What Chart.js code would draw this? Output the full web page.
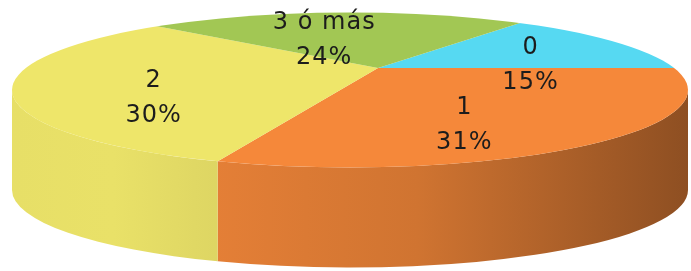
<!DOCTYPE html>
<html>
<head>
<meta charset="utf-8">
<script src="https://cdn.jsdelivr.net/npm/chart.js@4.4.0/dist/chart.umd.min.js"></script>
<style>
  html, body { margin: 0; padding: 0; background: #fff; }
</style>
</head>
<body>
<canvas id="pie" width="691" height="271"></canvas>
<script>
const categories = ['0', '1', '2', '3 ó más'];
const percents = [15, 31, 30, 24];
const topColors = ['#56D9F2', '#F5883A', '#EEE66A', '#A2C754'];

// outline of the tilted disc and the point where the slices meet
const view = { cx: 350, cy: 90, rx: 338, ry: 77.5, depth: 100, apexX: 378, apexY: 68 };
const squash = view.ry / view.rx;

function shade(hex, f) {
    const n = parseInt(hex.slice(1), 16);
    const r = Math.min(255, Math.round(((n >> 16) & 255) * f));
    const g = Math.min(255, Math.round(((n >> 8) & 255) * f));
    const b = Math.min(255, Math.round((n & 255) * f));
    return 'rgb(' + r + ',' + g + ',' + b + ')';
}

// parametric angle on the outline where a slice edge (angle a) leaves the disc
function rimAngle(a) {
    const px = (view.apexX - view.cx) / view.rx, py = (view.apexY - view.cy) / view.ry;
    const dx = Math.cos(a) / view.rx, dy = squash * Math.sin(a) / view.ry;
    const A = dx * dx + dy * dy, B = 2 * (px * dx + py * dy), C = px * px + py * py - 1;
    const t = (-B + Math.sqrt(B * B - 4 * A * C)) / (2 * A);
    return Math.atan2(py + t * dy, px + t * dx);
}

const pie3d = {
    id: 'pie3d',
    beforeDatasetsDraw(chart) {
        const ctx = chart.ctx;
        const arcs = chart.getDatasetMeta(0).data;
        const { cx, cy, rx, ry, depth } = view;

        // front side of the disc, only the half facing us (0..PI)
        arcs.forEach(function(arc, i) {
            let p1 = rimAngle(arc.startAngle);
            let p2 = rimAngle(arc.endAngle);
            if (p1 < 0) p1 += 2 * Math.PI;
            while (p2 <= p1) p2 += 2 * Math.PI;
            [0, 2 * Math.PI].forEach(function(base) {
                const lo = Math.max(p1, base);
                const hi = Math.min(p2, base + Math.PI);
                if (hi <= lo) return;
                const grad = ctx.createLinearGradient(cx - rx, 0, cx + rx, 0);
                grad.addColorStop(0, shade(topColors[i], 0.97));
                grad.addColorStop(0.15, shade(topColors[i], 0.98));
                grad.addColorStop(0.27, shade(topColors[i], 0.94));
                grad.addColorStop(0.6, shade(topColors[i], 0.85));
                grad.addColorStop(1, shade(topColors[i], 0.58));
                ctx.beginPath();
                ctx.ellipse(cx, cy, rx, ry, 0, lo, hi, false);
                ctx.lineTo(cx + rx * Math.cos(hi), cy + ry * Math.sin(hi) + depth);
                ctx.ellipse(cx, cy + depth, rx, ry, 0, hi, lo, true);
                ctx.closePath();
                ctx.fillStyle = grad;
                ctx.fill();
            });
        });

        // top face: pie centred on the apex, squashed and cut to the outline
        ctx.save();
        ctx.beginPath();
        ctx.ellipse(cx, cy, rx, ry, 0, 0, 2 * Math.PI);
        ctx.clip();
        ctx.translate(view.apexX, view.apexY);
        ctx.scale(1, squash);
        ctx.translate(-arcs[0].x, -arcs[0].y);
    },
    afterDatasetsDraw(chart) {
        const ctx = chart.ctx;
        ctx.restore();
        const arcs = chart.getDatasetMeta(0).data;
        const { cx, cy, rx, ry } = view;
        ctx.save();
        ctx.font = '24px "DejaVu Sans"';
        ctx.letterSpacing = '1px';
        ctx.fillStyle = '#1c1c1c';
        ctx.textAlign = 'center';
        ctx.textBaseline = 'middle';
        arcs.forEach(function(arc, i) {
            const mid = (arc.startAngle + arc.endAngle) / 2;
            const x = cx + 0.6 * rx * Math.cos(mid);
            const y = cy + 0.6 * ry * Math.sin(mid) - 4;
            ctx.fillText(categories[i], x, y - 17);
            ctx.fillText(percents[i] + '%', x, y + 18);
        });
        ctx.restore();
    }
};

new Chart(document.getElementById('pie'), {
    type: 'pie',
    data: {
        labels: categories,
        datasets: [{
            data: percents,
            backgroundColor: topColors,
            borderWidth: 0,
            clip: false
        }]
    },
    options: {
        responsive: false,
        animation: false,
        rotation: 35.9,
        radius: 500,
        layout: { padding: 0 },
        plugins: {
            legend: { display: false },
            tooltip: { enabled: false }
        }
    },
    plugins: [pie3d]
});
</script>
</body>
</html>
